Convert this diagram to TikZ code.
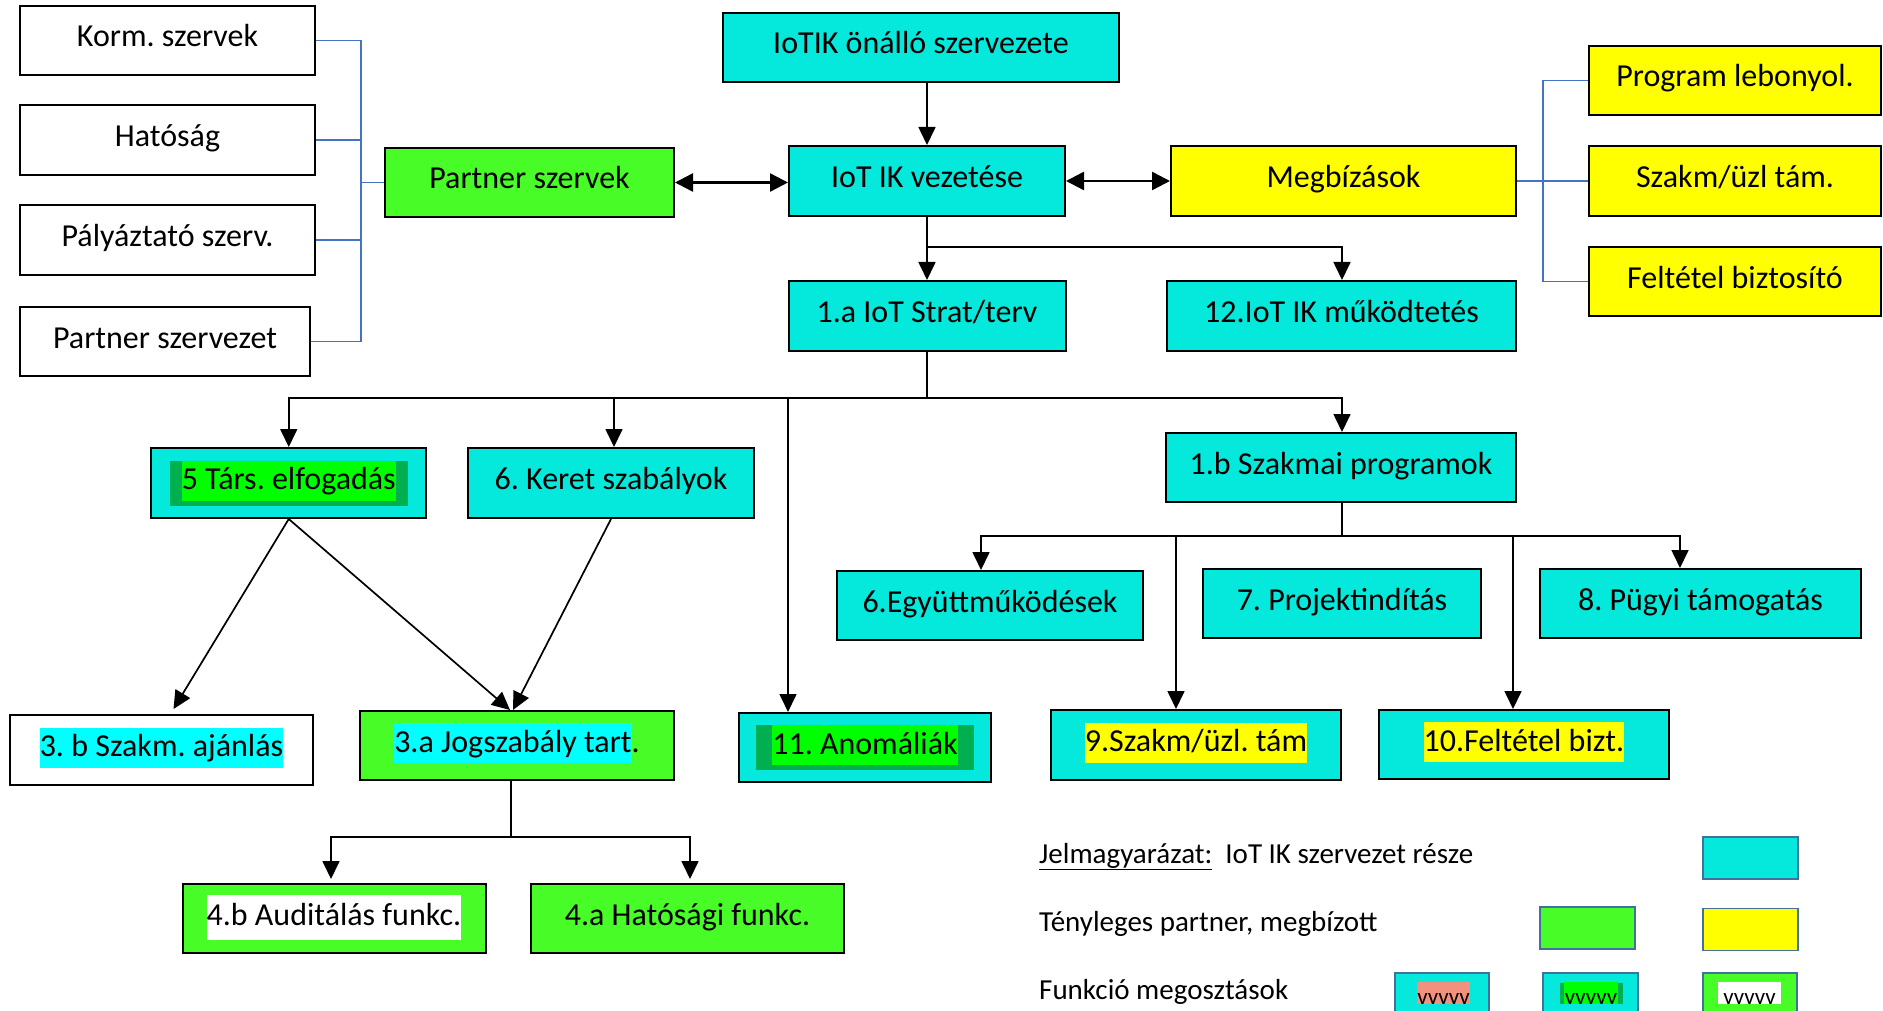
\documentclass[tikz,border=0pt]{standalone}
\usepackage{fontspec}
\setmainfont{Carlito}
\frenchspacing
\usetikzlibrary{arrows.meta,calc}

\definecolor{turq}{RGB}{5,233,220}
\definecolor{greenc}{RGB}{72,252,40}
\definecolor{yellowc}{RGB}{255,255,0}
\definecolor{hlcyan}{RGB}{0,255,255}
\definecolor{hlgreen}{RGB}{0,255,0}
\definecolor{dkgreen}{RGB}{0,176,80}
\definecolor{salmonc}{RGB}{242,145,125}
\definecolor{bracketblue}{RGB}{68,114,196}
\definecolor{legborder}{RGB}{65,113,156}

% text highlight, as a word processor would draw it behind the letters
\newcommand\hlbox[2]{{\setlength{\fboxsep}{0pt}\colorbox{#1}{\rule[-11pt]{0pt}{40pt}#2}}}
% bright green highlight set on a darker green band
\newcommand\hlshadow[3]{{\setlength{\fboxsep}{0pt}\colorbox{dkgreen}{\rule[-16pt]{0pt}{45pt}\hspace{#1}\colorbox{hlgreen}{\rule[-11pt]{0pt}{40pt}#3}\hspace{#2}}}}

\tikzset{
  box/.style={draw=black, line width=2pt, inner sep=0pt, minimum height=69pt,
    text height=23pt, text depth=10pt, font=\fontsize{32}{38}\selectfont},
  wbox/.style={box, fill=white},
  tbox/.style={box, fill=turq},
  gbox/.style={box, fill=greenc},
  ybox/.style={box, fill=yellowc},
  ln/.style={draw=black, line width=1.7pt},
  arr/.style={ln, -{Triangle[length=18pt,width=17pt]}},
  darr/.style={draw=black, line width=2.5pt, {Triangle[length=18pt,width=18pt]}-{Triangle[length=18pt,width=18pt]}},
  bl/.style={draw=bracketblue, line width=1.6pt},
  legtext/.style={inner sep=0pt, font=\fontsize{29}{35}\selectfont},
  legbox/.style={draw=legborder, line width=1.2pt, minimum width=95pt, minimum height=42pt, inner sep=0pt},
  legfill/.style={inner sep=0pt, text height=22pt, text depth=0pt, font=\fontsize{23}{26}\selectfont}
}

\begin{document}
\begin{tikzpicture}[x=1pt,y=-1pt]
\clip (0,0) rectangle (1883,1011);
\fill[white] (0,0) rectangle (1883,1011);

% partner organisations on the left
\node[wbox, minimum width=295pt] (korm) at (167.5,40.5) {Korm. szervek};
\node[wbox, minimum width=295pt, minimum height=70pt] (hat) at (167.5,140) {Hatóság};
\node[wbox, minimum width=295pt, minimum height=70pt] (paly) at (167.5,240) {Pályáztató szerv.};
\node[wbox, minimum width=290pt] (pszt) at (165,341.5) {Partner szervezet};
\node[gbox, minimum width=289pt] (pszk) at (529.5,182.5) {Partner szervek};

% top of the organisation
\node[tbox, minimum width=396pt] (iotik) at (921,47.5) {IoTIK önálló szervezete};
\node[tbox, minimum width=276pt, minimum height=70pt] (vez) at (927,181) {IoT IK vezetése};
\node[ybox, minimum width=345pt, minimum height=70pt] (megb) at (1343.5,181) {Megbízások};

% contractors on the right
\node[ybox, minimum width=292pt] (prog) at (1735,80.5) {Program lebonyol.};
\node[ybox, minimum width=292pt, minimum height=70pt] (szakm) at (1735,181) {Szakm/üzl tám.};
\node[ybox, minimum width=292pt] (felt) at (1735,281.5) {Feltétel biztosító};

% second level
\node[tbox, minimum width=277pt, minimum height=70pt] (strat) at (927,316) {1.a IoT Strat/terv};
\node[tbox, minimum width=349pt, minimum height=70pt] (mukod) at (1341.5,316) {12.IoT IK működtetés};

% third level
\node[tbox, minimum width=275pt, minimum height=70pt] (tars) at (288.75,483) {\hlshadow{12pt}{12pt}{5 Társ. elfogadás}};
\node[tbox, minimum width=286pt, minimum height=70pt] (keret) at (611,483) {6. Keret szabályok};
\node[tbox, minimum width=350pt] (szp) at (1341,467.5) {1.b Szakmai programok};

% professional programmes
\node[tbox, minimum width=306pt] (egy) at (990,605.5) {6.Együttműködések};
\node[tbox, minimum width=278pt] (proj) at (1342,603.5) {7. Projektindítás};
\node[tbox, minimum width=321pt] (pugyi) at (1700.5,603.5) {8. Pügyi támogatás};

% functions
\node[wbox, minimum width=303pt, minimum height=70pt] (ajanl) at (161.5,750) {\hlbox{hlcyan}{3. b Szakm. ajánlás}};
\node[gbox, minimum width=314pt] (jog) at (517,745.5) {\hlbox{hlcyan}{3.a Jogszabály tart}.};
\node[tbox, minimum width=252pt] (anom) at (865,747.5) {\hlshadow{16pt}{16pt}{11. Anomáliák}};
\node[tbox, minimum width=290pt, minimum height=70pt] (szt) at (1196,745) {\hlbox{yellowc}{9.Szakm/üzl. tám}};
\node[tbox, minimum width=290pt] (fb) at (1524,744.5) {\hlbox{yellowc}{10.Feltétel bizt.}};
\node[gbox, minimum width=303pt] (aud) at (334,918.5) {{\setlength{\fboxsep}{0pt}\colorbox{white}{\rule[-15pt]{0pt}{45pt}4.b Auditálás funkc.}}};
\node[gbox, minimum width=313pt] (hfun) at (687.5,918.5) {4.a Hatósági funkc.};

% blue brackets
\draw[bl] (korm.east) -- ++(45,0) coordinate (lt) -- (lt |- pszt.east) -- (pszt.east);
\draw[bl] (hat.east) -- (hat.east -| lt);
\draw[bl] (paly.east) -- (paly.east -| lt);
\draw[bl] (pszk.west) -- (pszk.west -| lt);
\coordinate (rt) at (1543,0);
\draw[bl] (prog.west) -| (rt |- felt.west) -- (felt.west);
\draw[bl] (megb.east) -- (szakm.west);

% management links
\draw[arr] (iotik.south -| vez.north) -- (vez.north);
\draw[darr] (pszk.east) -- (pszk.east -| vez.west);
\draw[darr] (vez.east) -- (megb.west);

\coordinate (j1) at ($(vez.south)+(0,30)$);
\draw[ln] (vez.south) -- (j1);
\draw[arr] (j1) -- (strat.north);
\draw[arr] (j1) -| ([xshift=0.5pt]mukod.north);

\coordinate (j2) at ($(strat.south)+(0,46)$);
\draw[ln] (strat.south) -- (j2);
\draw[arr] (j2) -| (tars.north);
\draw[arr] (j2) -| ([xshift=3pt]keret.north);
\draw[arr] (j2) -| ([xshift=-77pt]anom.north);
\draw[arr] (j2) -| ([xshift=1pt]szp.north);

\coordinate (j3) at ($(szp.south)+(1,33)$);
\draw[ln] (szp.south -| j3) -- (j3);
\draw[arr] (j3) -| ([xshift=-9pt]egy.north);
\draw[arr] (j3) -| ([xshift=-20pt]szt.north);
\draw[arr] (j3) -| ([xshift=-11pt]fb.north);
\draw[arr] (j3) -| ([xshift=-20.5pt]pugyi.north);

\draw[arr] (tars.south) -- ([xshift=12pt,yshift=5pt]ajanl.north);
\draw[arr] (tars.south) -- ([xshift=-7pt]jog.north);
\draw[arr] (keret.south) -- ([xshift=-4pt]jog.north);

\coordinate (j4) at ($(jog.south)+(-6,56)$);
\draw[ln] (jog.south -| j4) -- (j4);
\draw[arr] (j4) -| ([xshift=-3pt,yshift=4pt]aud.north);
\draw[arr] (j4) -| ([xshift=2.5pt,yshift=4pt]hfun.north);

% legend
\node[legtext, anchor=base west] (jel) at (1039,863) {\underline{Jelmagyarázat:}\ \ IoT IK szervezet része};
\node[legbox, fill=turq] (lc) at (1750.5,858) {};
\node[legtext, anchor=base west] (tp) at (1039,931) {Tényleges partner, megbízott};
\node[legbox, fill=greenc] (lg) at (1587.5,928) {};
\node[legbox, fill=yellowc] (ly) at (1750.5,929.5) {};
\node[legtext, anchor=base west] (fm) at (1039,999) {Funkció megosztások};
\node[legbox, fill=turq, minimum width=94pt] (lf1) at (1442,994) {};
\node[legbox, fill=turq] (lf2) at (1590.5,994) {};
\node[legbox, fill=greenc, minimum width=94pt] (lf3) at (1750,994) {};
\node[legfill, fill=salmonc, anchor=base, minimum width=53pt] (v1) at (1443.5,1004) {vvvvv};
\fill[dkgreen] (1560,983) rectangle (1623,1004);
\node[legfill, fill=hlgreen, anchor=base, minimum width=54pt] (v2) at (1591,1004) {vvvvv};
\node[legfill, fill=white, anchor=base, minimum width=63pt] (v3) at (1749.5,1004) {vvvvv};
\end{tikzpicture}
\end{document}
